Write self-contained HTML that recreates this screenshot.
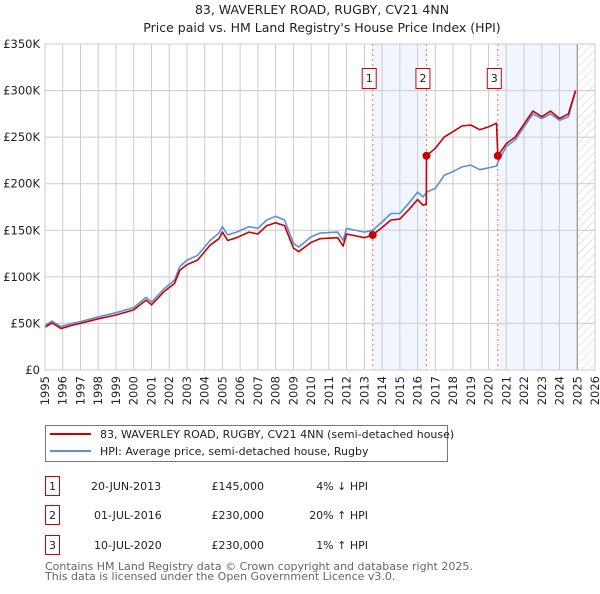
<!DOCTYPE html>
<html><head><meta charset="utf-8"><style>
body{margin:0;background:#fff;width:600px;height:590px;overflow:hidden;font-family:"DejaVu Sans","Liberation Sans",sans-serif;}
svg text{font-family:"DejaVu Sans","Liberation Sans",sans-serif;}
</style></head><body>
<svg id="c" width="600" height="590" xmlns="http://www.w3.org/2000/svg">
<defs><pattern id="hatch" width="6" height="6" patternUnits="userSpaceOnUse" patternTransform="rotate(45)"><line x1="0" y1="0" x2="0" y2="6" stroke="#ccc" stroke-width="1"/></pattern></defs>
<text x="322" y="14" text-anchor="middle" font-size="12.5" fill="#222">83, WAVERLEY ROAD, RUGBY, CV21 4NN</text>
<text x="322" y="32" text-anchor="middle" font-size="12.5" fill="#222">Price paid vs. HM Land Registry's House Price Index (HPI)</text>
<g id="plot"></g>
<g>
<rect x="45.5" y="425.5" width="402" height="36" fill="#fff" stroke="#777"/>
<line x1="50" y1="434" x2="91" y2="434" stroke="#cc0000" stroke-width="2"/>
<text x="100" y="438" font-size="11" fill="#222">83, WAVERLEY ROAD, RUGBY, CV21 4NN (semi-detached house)</text>
<line x1="50" y1="451" x2="91" y2="451" stroke="#5b8fd6" stroke-width="2"/>
<text x="100" y="455" font-size="11" fill="#222">HPI: Average price, semi-detached house, Rugby</text>
</g>
<g font-size="11" fill="#222">
<rect x="45.5" y="476.5" width="14" height="19" fill="none" stroke="#cc0000"/><text x="52.5" y="490" text-anchor="middle">1</text>
<text x="91" y="490">20-JUN-2013</text><text x="264" y="490" text-anchor="end">£145,000</text><text x="368" y="490" text-anchor="end">4% ↓ HPI</text>
<rect x="45.5" y="505.5" width="14" height="19" fill="none" stroke="#cc0000"/><text x="52.5" y="519" text-anchor="middle">2</text>
<text x="94" y="519">01-JUL-2016</text><text x="264" y="519" text-anchor="end">£230,000</text><text x="368" y="519" text-anchor="end">20% ↑ HPI</text>
<rect x="45.5" y="535.5" width="14" height="19" fill="none" stroke="#cc0000"/><text x="52.5" y="549" text-anchor="middle">3</text>
<text x="94" y="549">10-JUL-2020</text><text x="264" y="549" text-anchor="end">£230,000</text><text x="368" y="549" text-anchor="end">1% ↑ HPI</text>
</g>
<text x="45" y="570" font-size="11" fill="#666">Contains HM Land Registry data © Crown copyright and database right 2025.</text>
<text x="45" y="580" font-size="11" fill="#666">This data is licensed under the Open Government Licence v3.0.</text>
</svg>
<script>
const dates=[1995.0,1995.4,1995.9,1996.5,1997,1998,1999,2000,2000.7,2001,2001.7,2002.3,2002.6,2003,2003.6,2004.3,2004.8,2005,2005.3,2005.8,2006.5,2007,2007.5,2008,2008.5,2009,2009.3,2010,2010.5,2011.5,2011.8,2012,2013,2013.47,2014,2014.5,2015,2015.5,2016,2016.3,2016.49,2016.5,2017,2017.5,2018,2018.5,2019,2019.5,2020,2020.45,2020.52,2021,2021.5,2022,2022.5,2023,2023.5,2024,2024.5,2024.9];
const hpi=[48,52.5,46.5,50,52,57,61.5,67,78,73,87,96.5,111,118,123,139,147,154,145,148,154,152,161,165,161,136,132,143,147,148,139,152,148,150,159,168,168,179,191,186,190,191,195,209,213,218,220,215,217,219,223,240,247,261,275,270,275,268,272,299];
const price=[46,50.5,44.5,48,50,55,59,64.5,75,70,84,93,107,113,118,134,141,148,139,142,148,146,155,158,155,131,127,137,141,142,133,146,142,145,153,161,162,172,183,177,178,230,238,250,256,262,263,258,261,265,230,243,250,264,278,272,278,270,275,300];
const saleDates=[2013.47,2016.5,2020.52];
const saleValues=[145,230,230];
const saleLabels=["1","2","3"];
const yTicks=[0,50,100,150,200,250,300,350];
const yTickLabels=["£0","£50K","£100K","£150K","£200K","£250K","£300K","£350K"];
const xTicks=[1995,1996,1997,1998,1999,2000,2001,2002,2003,2004,2005,2006,2007,2008,2009,2010,2011,2012,2013,2014,2015,2016,2017,2018,2019,2020,2021,2022,2023,2024,2025,2026];
const dataEnd=2025.0;

const X0=45,X1=595,Y0=370,Y1=44;
const xs=d=>X0+(d-1995)/(2026-1995)*(X1-X0);
const ys=v=>Y0-v/350*(Y0-Y1);
const NS="http://www.w3.org/2000/svg";
const g=document.getElementById('plot');
function mk(t,a){const e=document.createElementNS(NS,t);for(const k in a)e.setAttribute(k,a[k]);g.appendChild(e);return e;}

let e;
e=mk('rect',{x:xs(saleDates[0]),y:Y1,width:xs(saleDates[1])-xs(saleDates[0]),height:Y0-Y1,fill:'#eef3fc',opacity:0.8});


e=mk('rect',{x:xs(saleDates[2]),y:Y1,width:xs(dataEnd)-xs(saleDates[2]),height:Y0-Y1,fill:'#eef3fc',opacity:0.8});


e=mk('rect',{x:xs(dataEnd),y:Y1,width:X1-xs(dataEnd),height:Y0-Y1,fill:'url(#hatch)'});



yTicks.forEach((t,i)=>{
  e=mk('line',{x1:X0,x2:X1,y1:ys(t),y2:ys(t),stroke:'#ccc','stroke-width':1});
  
  
  e=mk('text',{x:X0-5,y:ys(t)+4,'text-anchor':'end','font-size':11.5,fill:'#222'});
  e.textContent=yTickLabels[i];
  
  
});
xTicks.forEach(t=>{
  e=mk('line',{x1:xs(t),x2:xs(t),y1:Y1,y2:Y0,stroke:'#ccc','stroke-width':1});
  
  
  const tx=xs(t)+4, ty=Y0+6;
  e=mk('text',{x:tx,y:ty,'text-anchor':'end','font-size':11.5,fill:'#222',transform:`rotate(-90 ${tx} ${ty})`});
  e.textContent=t;
  
  
});
e=mk('line',{x1:xs(dataEnd),x2:xs(dataEnd),y1:Y1,y2:Y0,stroke:'#888','stroke-width':1});



saleDates.forEach((d,i)=>{
  e=mk('line',{x1:xs(d),x2:xs(d),y1:Y1,y2:Y0,stroke:'#e87070','stroke-width':1,'stroke-dasharray':'2,3'});
  
  
});

const pts=(arr)=>dates.map((d,i)=>xs(d).toFixed(1)+','+ys(arr[i]).toFixed(1)).join(' ');
e=mk('polyline',{points:pts(hpi),fill:'none',stroke:'#5b8fd6','stroke-width':1.6,'stroke-linejoin':'round'});


e=mk('polyline',{points:pts(price),fill:'none',stroke:'#cc0000','stroke-width':1.6,'stroke-linejoin':'round'});



saleDates.forEach((d,i)=>{
  e=mk('circle',{cx:xs(d),cy:ys(saleValues[i]),r:4,fill:'#cc0000'});
  
  
  e=mk('rect',{x:xs(d)-10.5,y:68.5,width:14,height:20,fill:'#fff',stroke:'#cc0000'});
  
  
  e=mk('text',{x:xs(d)-3.5,y:82,'text-anchor':'middle','font-size':11,fill:'#222'});
  e.textContent=saleLabels[i];
  
  
});
e=mk('rect',{x:X0,y:Y1,width:X1-X0,height:Y0-Y1,fill:'none',stroke:'#ccc'});


</script>
</body></html>
